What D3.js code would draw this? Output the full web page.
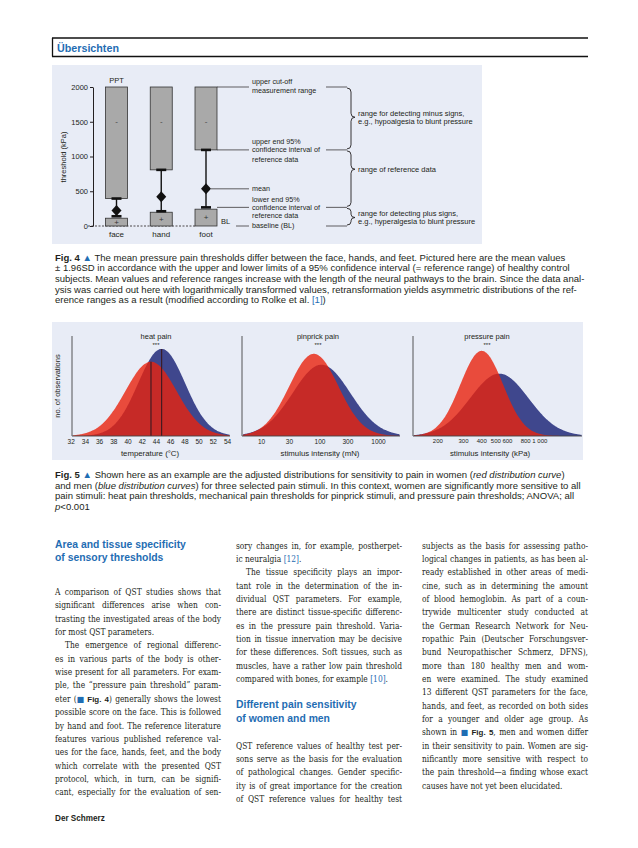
<!DOCTYPE html>
<html><head><meta charset="utf-8">
<script src="https://cdn.jsdelivr.net/npm/d3@7"></script>
<style>html,body{margin:0;padding:0;background:#fff;}svg{display:block;}</style>
</head><body>
<svg id="page" width="638" height="848"></svg>
<script>
// ---------------- Fig. 4 data (pressure pain threshold, kPa) ----------------
const regions = ["face", "hand", "foot"];
const baselineBL = [112, 198, 242];
const lowerCI = [140, 212, 268];
const meanPPT = [222, 421, 535];
const upperCI = [395, 808, 1095];
const cutoff = [2000, 2000, 2000];
const thresholdTicks = [0, 500, 1000, 1500, 2000];

// ---------------- Fig. 5 data (fitted distributions) ----------------
const panels = ["heat pain", "pinprick pain", "pressure pain"];
const panelUnits = ["temperature (°C)", "stimulus intensity (mN)", "stimulus intensity (kPa)"];
const heatTicks = [32, 34, 36, 38, 40, 42, 44, 46, 48, 50, 52, 54];
const pinprickTicks = [10, 30, 100, 300, 1000];
const pressureTicks = [200, 300, 400, 500, 600, 800, 1000];
const womenMean = [43.3, 80, 403];
const womenSD = [3.6, 0.42, 0.146];     // heat: °C ; others: log10 units
const womenPeak = [0.75, 0.83, 0.86];
const menMean = [44.8, 108, 532];
const menSD = [3.3, 0.49, 0.20];
const menPeak = [0.88, 0.72, 0.63];

// ---------------- text ----------------
const fig4Caption = [
 "**Fig. 4** ^▲^ The mean pressure pain thresholds differ between the face, hands, and feet. Pictured here are the mean values",
 "± 1.96SD in accordance with the upper and lower limits of a 95% confidence interval (= reference range) of healthy control",
 "subjects. Mean values and reference ranges increase with the length of the neural pathways to the brain. Since the data anal-",
 "ysis was carried out here with logarithmically transformed values, retransformation yields asymmetric distributions of the ref-",
 "erence ranges as a result (modified according to Rolke et al. ^[1]^)"
];
const fig5Caption = [
 "**Fig. 5** ^▲^ Shown here as an example are the adjusted distributions for sensitivity to pain in women (_red distribution curve_)",
 "and men (_blue distribution curves_) for three selected pain stimuli. In this context, women are significantly more sensitive to all",
 "pain stimuli: heat pain thresholds, mechanical pain thresholds for pinprick stimuli, and pressure pain thresholds; ANOVA; all",
 "_p_<0.001"
];
const col1 = [
 "A comparison of QST studies shows that",
 "significant differences arise when con-",
 "trasting the investigated areas of the body",
 "for most QST parameters.¶",
 "»The emergence of regional differenc-",
 "es in various parts of the body is other-",
 "wise present for all parameters. For exam-",
 "ple, the “pressure pain threshold” param-",
 "eter (§Fig. 4§) generally shows the lowest",
 "possible score on the face. This is followed",
 "by hand and foot. The reference literature",
 "features various published reference val-",
 "ues for the face, hands, feet, and the body",
 "which correlate with the presented QST",
 "protocol, which, in turn, can be signifi-",
 "cant, especially for the evaluation of sen-"
];
const col2a = [
 "sory changes in, for example, postherpet-",
 "ic neuralgia ^[12]^.¶",
 "»The tissue specificity plays an impor-",
 "tant role in the determination of the in-",
 "dividual QST parameters. For example,",
 "there are distinct tissue-specific differenc-",
 "es in the pressure pain threshold. Varia-",
 "tion in tissue innervation may be decisive",
 "for these differences. Soft tissues, such as",
 "muscles, have a rather low pain threshold",
 "compared with bones, for example ^[10]^.¶"
];
const col2b = [
 "QST reference values of healthy test per-",
 "sons serve as the basis for the evaluation",
 "of pathological changes. Gender specific-",
 "ity is of great importance for the creation",
 "of QST reference values for healthy test"
];
const col3 = [
 "subjects as the basis for assessing patho-",
 "logical changes in patients, as has been al-",
 "ready established in other areas of medi-",
 "cine, such as in determining the amount",
 "of blood hemoglobin. As part of a coun-",
 "trywide multicenter study conducted at",
 "the German Research Network for Neu-",
 "ropathic Pain (Deutscher Forschungsver-",
 "bund Neuropathischer Schmerz, DFNS),",
 "more than 180 healthy men and wom-",
 "en were examined. The study examined",
 "13 different QST parameters for the face,",
 "hands, and feet, as recorded on both sides",
 "for a younger and older age group. As",
 "shown in §Fig. 5§, men and women differ",
 "in their sensitivity to pain. Women are sig-",
 "nificantly more sensitive with respect to",
 "the pain threshold—a finding whose exact",
 "causes have not yet been elucidated.¶"
];

// ---------------- helpers ----------------
const SANS = "'Liberation Sans Narrow','Liberation Sans',Arial,sans-serif";
const SERIF = "'DejaVu Serif Condensed','DejaVu Serif','Liberation Serif',serif";
const INK = "#231f20", BLUE = "#1f6db3", PANEL = "#e8ecf6";
const svg = d3.select("#page");
svg.append("rect").attr("width", 638).attr("height", 848).attr("fill", "#fff");

function plain(s){ return s.replace(/\*\*|\^|§|¶|»/g,"").replace(/_/g,""); }
function measure(text, family, size, weight){
  const t = svg.append("text").attr("font-family",family).attr("font-size",size).attr("font-weight",weight||400).text(text);
  const w = t.node().getComputedTextLength(); t.remove(); return w;
}
function fitSize(text, family, weight, target){ return 10*target/measure(text,family,10,weight); }
function rich(sel, str, refSize){
  const parts = str.split(/(\*\*[^*]+\*\*|_[^_]+_|\^[^^]+\^|§[^§]+§)/g).filter(s=>s.length);
  parts.forEach(p=>{
    if (p.startsWith("**")) sel.append("tspan").attr("font-weight",700).text(p.slice(2,-2));
    else if (p.startsWith("_")) sel.append("tspan").attr("font-style","italic").text(p.slice(1,-1));
    else if (p.startsWith("^")) sel.append("tspan").attr("fill",BLUE).text(p.slice(1,-1));
    else if (p.startsWith("§")) {
      sel.append("tspan").attr("fill",BLUE).attr("font-family","'DejaVu Sans',sans-serif").attr("font-size",refSize).text("■");
      sel.append("tspan").attr("font-family",SANS).attr("font-weight",700).attr("font-size",refSize).text(" "+p.slice(1,-1));
    }
    else sel.append("tspan").text(p);
  });
}
function textLine(g, x, y, str, width, family, size, refSize){
  const last = str.endsWith("¶");
  const indent = str.startsWith("»") ? 10 : 0;
  const s = str.replace("¶","").replace("»","");
  const t = g.append("text").attr("x",x+indent).attr("y",y).attr("font-family",family).attr("font-size",size).attr("fill",INK);
  rich(t, s, refSize);
  if (width && !last) {
    const nat = t.node().getComputedTextLength();
    const n = (t.text().match(/ /g)||[]).length;
    if (n>0) t.style("word-spacing", ((width-indent-nat)/n)+"px");
  }
  return t;
}

// ---------------- header ----------------
const hd = svg.append("g");
hd.append("line").attr("x1",52).attr("x2",588).attr("y1",38).attr("y2",38).attr("stroke","#111").attr("stroke-width",1.3);
hd.append("line").attr("x1",52).attr("x2",588).attr("y1",56.5).attr("y2",56.5).attr("stroke","#111").attr("stroke-width",1.3);
hd.append("line").attr("x1",52.5).attr("x2",52.5).attr("y1",38).attr("y2",56.5).attr("stroke","#111").attr("stroke-width",1.3);
hd.append("text").attr("x",57).attr("y",51.5).attr("font-family",SANS).attr("font-weight",700)
  .attr("font-size",fitSize("Übersichten",SANS,700,62)).attr("fill",BLUE).text("Übersichten");

// ---------------- Fig. 4 ----------------
const g4 = svg.append("g");
g4.append("rect").attr("x",52).attr("y",65).attr("width",430).attr("height",179).attr("fill",PANEL);
const y4 = d3.scaleLinear().domain([0,2000]).range([226,87]);
const x4 = d3.scalePoint().domain(regions).range([116.5,206]);
const BW = 22;
const fs4 = 7.2;

g4.append("line").attr("x1",88).attr("x2",x4("foot")-BW/2).attr("y1",y4(0)).attr("y2",y4(0))
  .attr("stroke",INK).attr("stroke-width",0.8).attr("stroke-dasharray","2,1.5");
const ax4 = g4.append("g").attr("transform","translate(93,0)")
  .call(d3.axisLeft(y4).tickValues(thresholdTicks).tickSize(3).tickSizeOuter(0).tickPadding(2).tickFormat(d3.format("d")));
ax4.selectAll("text").attr("font-family",SANS).attr("font-size",7.5).attr("fill",INK);
ax4.selectAll("line,path").attr("stroke",INK);
g4.append("text").attr("transform","translate(66,157) rotate(-90)").attr("text-anchor","middle")
  .attr("font-family",SANS).attr("font-size",7.5).attr("fill",INK).text("threshold (kPa)");
g4.append("text").attr("x",x4("face")).attr("y",83).attr("text-anchor","middle")
  .attr("font-family",SANS).attr("font-size",7.5).attr("fill",INK).text("PPT");

regions.forEach((r,i)=>{
  const cx = x4(r);
  g4.append("rect").attr("x",cx-BW/2).attr("y",y4(baselineBL[i])).attr("width",BW).attr("height",y4(0)-y4(baselineBL[i]))
    .attr("fill","#a9a9a9").attr("stroke","#333").attr("stroke-width",0.8);
  g4.append("rect").attr("x",cx-BW/2).attr("y",y4(cutoff[i])).attr("width",BW).attr("height",y4(upperCI[i])-y4(cutoff[i]))
    .attr("fill","#a9a9a9").attr("stroke","#333").attr("stroke-width",0.8);
  g4.append("line").attr("x1",cx).attr("x2",cx).attr("y1",y4(lowerCI[i])).attr("y2",y4(upperCI[i])).attr("stroke","#111").attr("stroke-width",1.4);
  [lowerCI[i], upperCI[i]].forEach(v=>{
    g4.append("rect").attr("x",cx-5).attr("y",y4(v)-1.3).attr("width",10).attr("height",2.6).attr("fill","#111");
  });
  const my = y4(meanPPT[i]);
  g4.append("path").attr("d",`M${cx},${my-5.5}L${cx+5},${my}L${cx},${my+5.5}L${cx-5},${my}Z`).attr("fill","#111");
  g4.append("text").attr("x",cx).attr("y",(y4(0)+y4(baselineBL[i]))/2+2.8).attr("text-anchor","middle")
    .attr("font-family",SANS).attr("font-size",8).attr("fill","#333").text("+");
  g4.append("text").attr("x",cx).attr("y",y4(1500)+2.5).attr("text-anchor","middle")
    .attr("font-family",SANS).attr("font-size",8).attr("fill","#444").text("-");
  g4.append("text").attr("x",cx).attr("y",237).attr("text-anchor","middle")
    .attr("font-family",SANS).attr("font-size",8).attr("fill",INK).text(r);
});
g4.append("text").attr("x",221).attr("y",224).attr("font-family",SANS).attr("font-size",7.5).attr("fill",INK).text("BL");

// annotations (referring to foot)
const fx = x4("foot")+BW/2;
const annos = [
  {v: cutoff[2], x1: fx, lines: ["upper cut-off","measurement range"], off: [-5, 3.5], right: true},
  {v: upperCI[2], x1: fx, lines: ["upper end 95%","confidence interval of","reference data"], off: [-8.3, 0, 9.3], right: true},
  {v: meanPPT[2], x1: x4("foot")+5, lines: ["mean"], off: [0], right: false},
  {v: lowerCI[2], x1: fx, lines: ["lower end 95%","confidence interval of","reference data"], off: [-7.6, 0, 8.6], right: true},
  {v: 0, x1: 236, lines: ["baseline (BL)"], off: [0], right: true}
];
annos.forEach(a=>{
  const yy = y4(a.v);
  g4.append("line").attr("x1",a.x1).attr("x2",249).attr("y1",yy).attr("y2",yy).attr("stroke",INK).attr("stroke-width",0.7);
  if (a.right) g4.append("line").attr("x1",326).attr("x2",347).attr("y1",yy).attr("y2",yy).attr("stroke",INK).attr("stroke-width",0.7);
  a.lines.forEach((l,k)=>{
    g4.append("text").attr("x",252).attr("y",yy+a.off[k]+2.4).attr("font-family",SANS).attr("font-size",fs4).attr("fill",INK).text(l);
  });
});
function bracePath(x0, y1, y2, f, w){
  const xm = x0+w*0.5, xt = x0+w, ym = y1+(y2-y1)*f, r = Math.min(4,(y2-y1)/5);
  return `M${x0},${y1}Q${xm},${y1} ${xm},${y1+r}L${xm},${ym-r}Q${xm},${ym} ${xt},${ym}Q${xm},${ym} ${xm},${ym+r}L${xm},${y2-r}Q${xm},${y2} ${x0},${y2}`;
}
const braces = [
  {from: cutoff[2], to: upperCI[2], f: 0.48, lines: ["range for detecting minus signs,","e.g., hypoalgesia to blunt pressure"]},
  {from: upperCI[2], to: lowerCI[2], f: 0.33, lines: ["range of reference data"]},
  {from: lowerCI[2], to: 0, f: 0.55, lines: ["range for detecting plus signs,","e.g., hyperalgesia to blunt pressure"]}
];
braces.forEach(b=>{
  const a = y4(b.from)+1, c = y4(b.to)-1, ym = a+(c-a)*b.f;
  g4.append("path").attr("d",bracePath(347,a,c,b.f,8)).attr("fill","none").attr("stroke",INK).attr("stroke-width",0.9);
  const n = b.lines.length;
  b.lines.forEach((l,k)=>{
    g4.append("text").attr("x",358).attr("y",ym+(k-(n-1)/2)*8.5+2.6).attr("font-family",SANS).attr("font-size",7.5).attr("fill",INK).text(l);
  });
});

// caption sizes
const capSize = fitSize(plain(fig4Caption[2]), SANS, 400, 530);
const capG = svg.append("g");
fig4Caption.forEach((l,i)=>{ textLine(capG, 55, 260.5+i*10.7, l+"¶", null, SANS, capSize, capSize); });

// ---------------- Fig. 5 ----------------
const g5 = svg.append("g");
g5.append("rect").attr("x",52).attr("y",322).attr("width",531).attr("height",138).attr("fill",PANEL);
const yAxisX = [72, 242, 413], axisEnd = [230, 400, 582];
const titleX = [156, 318, 487], unitX = [150, 320, 490];
const tickFont = [6.5, 6.5, 6];
const y5 = d3.scaleLinear().domain([0,1]).range([436,337]);
const xScales = [
  d3.scaleLinear().domain([32,54]).range([70.7,227]),
  d3.scaleLog().domain([10,1000]).range([261,378]),
  d3.scaleLog().domain([200,1000]).range([437.3,539.3])
];
const tickSets = [heatTicks, pinprickTicks, pressureTicks];
const isLog = [false, true, true];

function curve(i, mean, sd, peak){
  const xs = xScales[i];
  const pts = d3.range(yAxisX[i]+1, axisEnd[i], 0.5).map(px=>xs.invert(px));
  const tr = v => isLog[i] ? Math.log10(v) : v;
  return pts.map(v=>({v, d: peak*Math.exp(-0.5*Math.pow((tr(v)-tr(mean))/sd,2))}));
}
panels.forEach((p,i)=>{
  const xs = xScales[i];
  const area = d3.area().x(d=>xs(d.v)).y0(y5(0)).y1(d=>y5(d.d)).curve(d3.curveBasis);
  g5.append("path").datum(curve(i, menMean[i], menSD[i], menPeak[i])).attr("d",area).attr("fill","#3f478d");
  g5.append("path").datum(curve(i, womenMean[i], womenSD[i], womenPeak[i])).attr("d",area).attr("fill","#e8230e").attr("fill-opacity",0.8);
  if (i===0) {
    [[womenMean[0],womenPeak[0]],[menMean[0],menPeak[0]]].forEach(([m,pk])=>{
      g5.append("line").attr("x1",xs(m)).attr("x2",xs(m)).attr("y1",y5(0)).attr("y2",y5(pk)).attr("stroke","#3a1a20").attr("stroke-width",1.1);
    });
  }
  g5.append("line").attr("x1",yAxisX[i]).attr("x2",yAxisX[i]).attr("y1",336).attr("y2",y5(0)).attr("stroke","#444").attr("stroke-width",0.9);
  g5.append("line").attr("x1",yAxisX[i]).attr("x2",axisEnd[i]).attr("y1",y5(0)).attr("y2",y5(0)).attr("stroke","#444").attr("stroke-width",0.9);
  const ax = g5.append("g").attr("transform",`translate(0,${y5(0)})`)
    .call(d3.axisBottom(xs).tickValues(tickSets[i]).tickSize(0).tickPadding(3)
      .tickFormat(d => (i===2 && d===1000) ? "1 000" : String(d)));
  ax.select(".domain").remove();
  ax.selectAll("text").attr("font-family",SANS).attr("font-size",tickFont[i]).attr("fill",INK);
  g5.append("text").attr("x",titleX[i]).attr("y",339).attr("text-anchor","middle").attr("font-family",SANS).attr("font-size",7.5).attr("fill",INK).text(p);
  g5.append("text").attr("x",titleX[i]).attr("y",347).attr("text-anchor","middle").attr("font-family",SANS).attr("font-size",6).attr("fill",INK).text("***");
  g5.append("text").attr("x",unitX[i]).attr("y",455.5).attr("text-anchor","middle").attr("font-family",SANS).attr("font-size",7.8).attr("fill",INK).text(panelUnits[i]);
});
g5.append("text").attr("transform","translate(60,386) rotate(-90)").attr("text-anchor","middle")
  .attr("font-family",SANS).attr("font-size",7.5).attr("fill",INK).text("no. of observations");

fig5Caption.forEach((l,i)=>{ textLine(capG, 55, 478+i*10.7, l+"¶", null, SANS, capSize, capSize); });

// ---------------- body text ----------------
const allBody = col1.concat(col2a, col2b, col3);
const colW = 166;
const bodySize = d3.min(allBody, l => 10*colW/measure(plain(l),SERIF,10,400)) * 0.985;
const refSize = bodySize*0.95;
const body = svg.append("g");
const LH = 13.35;
const headSize = fitSize("Area and tissue specificity", SANS, 700, 131);
function heading(x, y, lines){
  lines.forEach((l,k)=> body.append("text").attr("x",x).attr("y",y+k*13.5).attr("font-family",SANS).attr("font-weight",700)
    .attr("font-size",headSize).attr("fill",BLUE).text(l));
}
heading(55, 547.5, ["Area and tissue specificity","of sensory thresholds"]);
col1.forEach((l,i)=> textLine(body, 55, 595+i*LH, l, colW, SERIF, bodySize, refSize));
col2a.forEach((l,i)=> textLine(body, 236, 548.5+i*LH, l, colW, SERIF, bodySize, refSize));
heading(236, 708, ["Different pain sensitivity","of women and men"]);
col2b.forEach((l,i)=> textLine(body, 236, 748.5+i*LH, l, colW, SERIF, bodySize, refSize));
col3.forEach((l,i)=> textLine(body, 422, 548.5+i*LH, l, colW, SERIF, bodySize, refSize));

svg.append("text").attr("x",55).attr("y",821).attr("font-family",SANS).attr("font-weight",700)
  .attr("font-size",fitSize("Der Schmerz",SANS,700,50)).attr("fill",INK).text("Der Schmerz");
</script>
</body></html>
